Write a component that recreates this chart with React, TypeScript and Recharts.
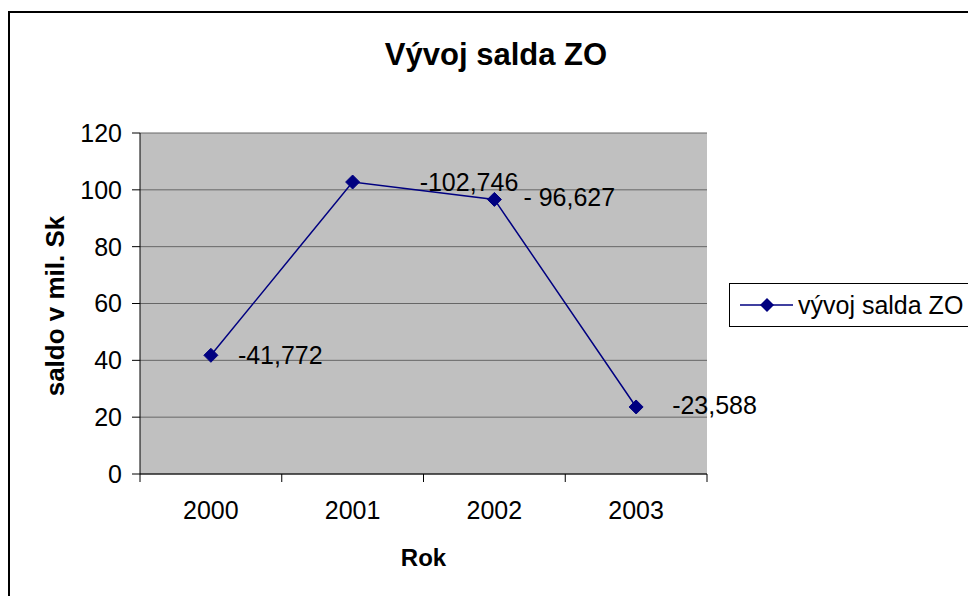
import React from 'react';
import { LineChart, Line, XAxis, YAxis, CartesianGrid } from 'recharts';

const years = ['2000', '2001', '2002', '2003'];
const saldo = [41.772, 102.746, 96.627, 23.588];
const saldoLabels = ['-41,772', '-102,746', '- 96,627', '-23,588'];
const yTicks = [0, 20, 40, 60, 80, 100, 120];

const data = years.map((rok, i) => ({ rok, saldo: saldo[i], label: saldoLabels[i] }));

const W = 968;
const H = 596;
const LEFT = 140;
const RIGHT = 261;
const TOP = 133;
const BOTTOM = 122;
const FONT = '"Liberation Sans", Arial, sans-serif';
const NAVY = '#000080';

const half = (W - LEFT - RIGHT) / years.length / 2;
const labelDx = [27, 67, 29, 36];
const labelDy = [0, 0, -2, -2];

const Diamond = (props: any) => {
    const { cx, cy } = props;
    if (cx == null || cy == null) return null;
    const r = 7;
    return (
        <polygon
            points={`${cx},${cy - r} ${cx + r},${cy} ${cx},${cy + r} ${cx - r},${cy}`}
            fill={NAVY}
            stroke={NAVY}
        />
    );
};

const XTick = (props: any) => {
    const { x, y, payload, index } = props;
    return (
        <g>
            <line x1={x - half} y1={y} x2={x - half} y2={y + 8} stroke="#000" />
            {index === years.length - 1 && (
                <line x1={x + half} y1={y} x2={x + half} y2={y + 8} stroke="#000" />
            )}
            <text x={x} y={y + 36} textAnchor="middle" dominantBaseline="central"
                fontSize={25} fontFamily={FONT} fill="#000">
                {payload.value}
            </text>
        </g>
    );
};

const PointLabel = (props: any) => {
    const { x, y, index } = props;
    return (
        <text x={x + labelDx[index]} y={y + labelDy[index]} dominantBaseline="central"
            fontSize={25} fontFamily={FONT} fill="#000">
            {saldoLabels[index]}
        </text>
    );
};

export default function App() {
    return (
        <div style={{ position: 'absolute', left: 0, top: 0, width: W, height: H, overflow: 'hidden', background: '#fff', fontFamily: FONT }}>
            <div style={{ position: 'absolute', left: 8, top: 11, width: 1200, height: 1200, borderLeft: '2px solid #000', borderTop: '2px solid #000' }} />
            <div style={{ position: 'absolute', left: 0, top: 0 }}>
                <LineChart width={W} height={H} data={data}
                    margin={{ top: TOP, right: RIGHT, left: 0, bottom: 0 }}>
                    <CartesianGrid fill="#C0C0C0" stroke="#666" vertical={false} />
                    <XAxis dataKey="rok" scale="band" height={BOTTOM} tickSize={0} tickMargin={0}
                        tick={<XTick />} axisLine={{ stroke: '#000' }} tickLine={false} interval={0} />
                    <YAxis domain={[0, 120]} ticks={yTicks} width={LEFT} tickSize={8} tickMargin={10}
                        axisLine={{ stroke: '#000' }} tickLine={{ stroke: '#000' }}
                        tick={{ fontSize: 25, fontFamily: FONT, fill: '#000' }} />
                    <YAxis yAxisId="r" orientation="right" width={0} tick={false} tickLine={false}
                        axisLine={{ stroke: '#808080' }} />
                    <Line dataKey="saldo" stroke={NAVY} strokeWidth={1.5} isAnimationActive={false}
                        dot={<Diamond />} activeDot={false} label={<PointLabel />} />
                </LineChart>
            </div>
            <div style={{ position: 'absolute', left: 0, width: 992, top: 35, textAlign: 'center', fontSize: 31, fontWeight: 'bold', lineHeight: '40px' }}>
                Vývoj salda ZO
            </div>
            <div style={{ position: 'absolute', left: LEFT, width: W - LEFT - RIGHT, top: 543, textAlign: 'center', fontSize: 24, fontWeight: 'bold', lineHeight: '30px' }}>
                Rok
            </div>
            <div style={{ position: 'absolute', left: 55 - 150, top: 306 - 15, width: 300, height: 30, lineHeight: '30px', textAlign: 'center', fontSize: 26, fontWeight: 'bold', transform: 'rotate(-90deg)' }}>
                saldo v mil. Sk
            </div>
            <div style={{ position: 'absolute', left: 729, top: 283, width: 300, height: 42, border: '1px solid #000', background: '#fff' }}>
                <svg width={70} height={42} style={{ position: 'absolute', left: 0, top: 0 }}>
                    <line x1={10} y1={21} x2={63} y2={21} stroke={NAVY} strokeWidth={1.5} />
                    <polygon points="37,14 44,21 37,28 30,21" fill={NAVY} />
                </svg>
                <div style={{ position: 'absolute', left: 68, top: 0, lineHeight: '42px', fontSize: 25, whiteSpace: 'nowrap' }}>
                    vývoj salda ZO
                </div>
            </div>
        </div>
    );
}
